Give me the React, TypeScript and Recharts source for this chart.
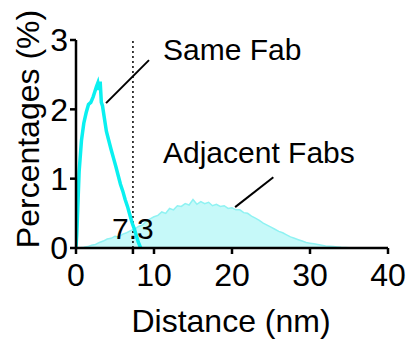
import {
  ComposedChart,
  Line,
  Area,
  XAxis,
  YAxis,
  ReferenceLine
} from "recharts"

// Same Fab distribution (nm, %)
const sameFabX = [0, 0.1, 0.4, 0.7, 1.0, 1.3, 1.6, 1.9, 2.2, 2.4, 2.6, 2.8, 2.95, 3.1, 3.25, 3.4, 3.6, 3.9, 4.2, 4.5, 4.8, 5.1, 5.4, 5.7, 6.0, 6.3, 6.6, 6.9, 7.2, 7.5, 7.8, 8.0, 8.3]
const sameFabY = [0, 0.2, 1.1, 1.55, 1.8, 1.95, 2.07, 2.1, 2.18, 2.25, 2.32, 2.38, 2.28, 2.4, 2.1, 2.05, 1.9, 1.68, 1.55, 1.42, 1.3, 1.18, 1.05, 0.92, 0.82, 0.7, 0.6, 0.48, 0.36, 0.27, 0.15, 0.08, 0]

// Adjacent Fabs distribution (nm, %)
const adjacentX = [
  0, 0.5, 1, 1.5, 2, 2.5, 3, 3.5, 4, 4.5, 5, 5.5, 6, 6.5, 7, 7.5, 8, 8.5, 9, 9.5,
  10, 10.5, 11, 11.5, 12, 12.5, 13, 13.5, 14, 14.5, 15, 15.5, 16, 16.5, 17, 17.5, 18, 18.5, 19, 19.5,
  20, 20.5, 21, 21.5, 22, 22.5, 23, 23.5, 24, 24.5, 25, 25.5, 26, 26.5, 27, 27.5, 28, 28.5, 29, 29.5,
  30, 30.5, 31, 31.5, 32, 32.5, 33, 33.5, 34, 34.5, 35, 35.5, 36
]
const adjacentY = [
  0, 0.005, 0.01, 0.02, 0.04, 0.05, 0.08, 0.1, 0.13, 0.14, 0.17, 0.16, 0.2, 0.22, 0.25, 0.27, 0.31, 0.33, 0.38, 0.42,
  0.45, 0.47, 0.52, 0.5, 0.57, 0.55, 0.61, 0.6, 0.64, 0.62, 0.7, 0.63, 0.67, 0.64, 0.66, 0.61, 0.63, 0.6, 0.61, 0.57,
  0.58, 0.55, 0.55, 0.51, 0.5, 0.46, 0.43, 0.4, 0.36, 0.33, 0.3, 0.27, 0.24, 0.22, 0.19, 0.16, 0.14, 0.12, 0.1, 0.08,
  0.07, 0.06, 0.05, 0.04, 0.03, 0.025, 0.02, 0.015, 0.01, 0.008, 0.005, 0.003, 0
]

const xTicks = [0, 7.3, 10, 20, 30, 40]
const yTicks = [0, 1, 2, 3]
const cutoff = 7.3

const sameFab = sameFabX.map((x, i) => ({ x, y: sameFabY[i] }))
const adjacent = adjacentX.map((x, i) => ({ x, y: adjacentY[i] }))

const font = "'Liberation Sans', Arial, sans-serif"
const axisStyle = { stroke: "#000", strokeWidth: 2.5 }
const tickStyle = { fill: "#000", fontSize: 32, fontFamily: font }

const textStyle = {
  position: "absolute" as const,
  fontFamily: font,
  fontSize: 30,
  lineHeight: "30px",
  color: "#000",
  whiteSpace: "nowrap" as const
}

export default function App() {
  return (
    <div style={{ position: "absolute", left: 0, top: 0, width: 408, height: 342, background: "#fff" }}>
      <ComposedChart
        width={408}
        height={342}
        margin={{ top: 40, right: 20, left: 0, bottom: 0 }}
      >
        <XAxis
          type="number"
          dataKey="x"
          domain={[0, 40]}
          ticks={xTicks}
          tickFormatter={(v: number) => (v === cutoff ? "" : String(v))}
          allowDataOverflow
          axisLine={axisStyle}
          tickLine={axisStyle}
          tickSize={6}
          tickMargin={9}
          tick={tickStyle}
          height={94}
        />
        <YAxis
          type="number"
          domain={[0, 3]}
          ticks={yTicks}
          axisLine={axisStyle}
          tickLine={axisStyle}
          tickSize={6}
          tickMargin={2}
          tick={tickStyle}
          width={76}
        />

        <Area
          data={adjacent}
          dataKey="y"
          type="linear"
          stroke="#8ff2f2"
          strokeWidth={1.5}
          fill="#c6f9f9"
          fillOpacity={1}
          isAnimationActive={false}
        />

        <ReferenceLine
          x={cutoff}
          stroke="#000"
          strokeWidth={1.5}
          strokeDasharray="2 3"
        />

        <Line
          data={sameFab}
          dataKey="y"
          type="linear"
          stroke="#0af0f0"
          strokeWidth={3.5}
          dot={false}
          isAnimationActive={false}
        />

        <ReferenceLine
          segment={[{ x: 3.85, y: 2.09 }, { x: 9.36, y: 2.71 }]}
          stroke="#000"
          strokeWidth={2}
        />
        <ReferenceLine
          segment={[{ x: 20.4, y: 0.59 }, { x: 25.3, y: 1.02 }]}
          stroke="#000"
          strokeWidth={2}
        />
      </ComposedChart>

      <div style={{ ...textStyle, left: 163, top: 35 }}>Same Fab</div>
      <div style={{ ...textStyle, left: 163, top: 138 }}>Adjacent Fabs</div>
      <div style={{ ...textStyle, left: 112, top: 214 }}>7.3</div>
      <div
        style={{
          ...textStyle,
          fontSize: 32,
          lineHeight: "32px",
          left: 231,
          top: 305,
          transform: "translateX(-50%)"
        }}
      >
        Distance (nm)
      </div>
      <div
        style={{
          ...textStyle,
          fontSize: 32,
          lineHeight: "32px",
          left: 28,
          top: 129,
          transform: "translate(-50%, -50%) rotate(-90deg)"
        }}
      >
        Percentages (%)
      </div>
    </div>
  )
}
